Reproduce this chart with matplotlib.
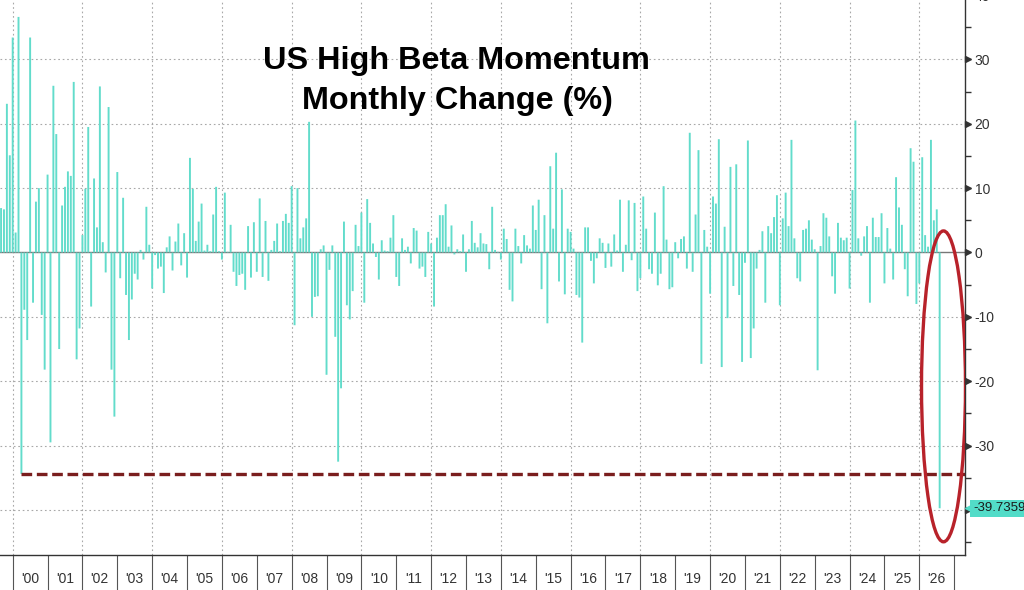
import numpy as np
import matplotlib
matplotlib.use("Agg")
import matplotlib.pyplot as plt
import matplotlib.transforms as mtransforms
from matplotlib.patches import Ellipse

# ---------------- data ----------------
start_year, start_month = 1999, 8          # first bar: Aug 1999 (bars at month end)
monthly_change = [
    6.9, 6.7, 23.1, 15.1, 33.4, 3.1, 36.6, -34.4, -8.9, -13.6,
    33.4, -7.8, 7.9, 10.0, -9.7, -18.2, 12.1, -29.5, 25.9, 18.4,
    -15.0, 7.3, 10.2, 12.6, 11.9, 26.5, -16.6, -11.8, 2.7, 9.9,
    19.5, -8.4, 11.5, 3.9, 25.8, 1.6, -3.1, 22.6, -18.2, -25.5,
    12.5, -4.0, 8.5, -6.6, -13.6, -7.3, -3.3, -4.2, 0.4, -1.1,
    7.1, 1.2, -5.6, -0.4, -2.5, -2.2, -6.3, 0.8, 2.5, -2.8,
    1.7, 4.5, -2.0, 3.0, -3.9, 14.7, 9.9, 1.8, 4.8, 7.6,
    0.3, 1.2, 0.2, 5.9, 10.2, 0.2, -1.1, 9.3, 0.1, 4.3,
    -3.0, -5.2, -3.5, -3.3, -5.8, 4.1, -3.9, 4.7, -3.0, 8.4,
    -3.8, 4.9, -4.4, 0.4, 1.8, 4.5, 0.2, 4.9, 6.0, 4.6,
    10.3, -11.3, 10.0, 2.2, 3.9, 5.3, 20.3, -10.0, -6.9, -6.8,
    0.5, 1.1, -19.0, -2.7, 1.1, -13.1, -32.5, -21.1, 4.8, -8.2,
    -10.4, -6.0, 4.3, 1.0, 6.2, -7.8, 8.3, 4.6, 1.4, -0.7,
    -4.2, 1.9, 0.3, 0.2, 2.3, 5.8, -3.8, -5.2, 2.2, 0.4,
    0.9, -1.7, 3.8, 3.4, -2.5, -2.2, -3.8, 3.2, 1.4, -8.4,
    2.3, 5.8, 5.8, 7.5, 0.9, 4.2, -0.3, 0.5, 0.2, 2.8,
    -3.0, 0.5, 4.9, 1.5, 0.8, 3.0, 1.4, 1.3, -2.6, 7.1,
    0.4, 0.1, -1.1, 3.7, 2.1, -5.8, -7.6, 3.7, 1.0, -1.7,
    2.7, 1.1, 0.6, 7.3, 3.5, 8.2, -5.7, 5.8, -11.0, 13.4,
    3.7, 15.5, -4.5, 9.8, -6.5, 3.7, 3.2, 0.6, -6.6, -7.0,
    -14.0, 3.9, 3.9, -1.3, -4.8, -0.9, 2.2, 1.5, -2.4, 1.4,
    -2.2, 2.8, 0.3, 8.2, -3.0, 1.2, 8.1, -1.2, 7.7, -6.0,
    -4.0, 8.7, 3.7, -2.6, -3.3, 6.2, -5.1, -3.3, 10.3, 2.0,
    -5.7, -5.4, 1.6, -0.9, 2.1, 2.5, -2.5, 18.6, -3.0, 5.9,
    15.9, -17.3, 3.5, 0.9, -6.4, 8.7, 7.6, 17.6, -17.8, 4.0,
    -10.2, 13.3, -5.2, 13.7, -6.6, -17.0, -1.6, 17.4, -16.4, -11.8,
    -2.5, 0.4, 3.3, -7.8, 4.1, 3.0, 5.5, 8.9, -8.2, 5.3,
    9.3, 4.1, 17.5, 2.2, -4.0, -4.5, 3.5, 3.7, 5.0, 2.0,
    0.5, -18.3, 1.0, 6.1, 5.4, 2.5, -3.7, -6.4, 4.6, 2.3,
    1.9, 2.3, -5.6, 9.7, 20.5, 2.2, -0.5, 2.5, 4.1, -7.8,
    5.4, 2.4, 2.4, 6.1, -4.8, 3.8, 0.6, -4.2, 11.7, 7.0,
    4.3, -2.6, -6.8, 16.2, 14.1, -8.0, -4.8, 14.8, 2.7, 0.9,
    17.5, 5.0, 6.7, -39.7359,
]
year_labels = ["'00", "'01", "'02", "'03", "'04", "'05", "'06", "'07", "'08",
               "'09", "'10", "'11", "'12", "'13", "'14", "'15", "'16", "'17",
               "'18", "'19", "'20", "'21", "'22", "'23", "'24", "'25", "'26"]
label_years = list(range(2000, 2027))
y_major = [-40, -30, -20, -10, 0, 10, 20, 30, 40]
y_major_labels = ["", "-30", "-20", "-10", "0", "10", "20", "30", "40"]  # -40 sits under the value tag
y_minor = [-45, -35, -25, -15, -5, 5, 15, 25, 35]
title_lines = ["US High Beta Momentum", "Monthly Change (%)"]

# ---------------- style ----------------
plt.rcParams['font.family'] = ['Liberation Sans', 'DejaVu Sans']
plt.rcParams['axes.unicode_minus'] = False
bar_color = '#62dccb'
grid_color = '#a8a8a8'
axis_color = '#333333'
line_red = '#7a1e1e'
ellipse_red = '#b8222a'
tag_color = '#52dcc8'

vals = np.array(monthly_change)
x = start_year + (start_month + np.arange(len(vals))) / 12.0

fig = plt.figure(figsize=(10.24, 5.9), dpi=100)
ax = fig.add_axes([0.0, 35 / 590, 965 / 1024, 561 / 590])
ax.set_xlim(1999.636, 2027.31)
ax.set_ylim(-47.0, 40.16)

# grid
for yv in y_major:
    if yv != 0:
        ax.axhline(yv, color=grid_color, lw=0.8, ls=(0, (1.5, 2.5)), zorder=0)
for yr in range(2000, 2027, 2):
    ax.axvline(yr, color=grid_color, lw=0.8, ls=(0, (1.5, 2.5)), zorder=0)
ax.axhline(0, color='#777777', lw=1.0, zorder=1)

# bars
ax.bar(x, vals, width=0.055, color=bar_color, linewidth=0, zorder=2, snap=False)

# dashed line at the 2000 low
early = vals[:60]
i_low = int(np.argmin(early))
ax.hlines(early[i_low], x[i_low], 2027.31, colors=line_red, lw=2.4,
          linestyles=(0, (3.2, 1.4)), zorder=4)

# ellipse around last bar
ell = Ellipse((x[-1] + 0.11, -20.8), width=1.26, height=48.3, fill=False,
              ec=ellipse_red, lw=2.4, zorder=5)
ax.add_patch(ell)

# spines
for s in ['left', 'top']:
    ax.spines[s].set_visible(False)
for s in ['right', 'bottom']:
    ax.spines[s].set_color(axis_color)
    ax.spines[s].set_linewidth(1.0)

# x axis
years = np.arange(2000, 2028)
ax.set_xticks(years)
ax.set_xticklabels([''] * len(years))
ax.set_xticks(np.array(label_years) + 0.5, minor=True)
ax.set_xticklabels(year_labels, minor=True)
ax.tick_params(axis='x', which='major', length=25, width=0.8, color='#555555', direction='out')
ax.tick_params(axis='x', which='minor', length=0, pad=12, labelsize=10, labelcolor=axis_color)

# y axis (right)
ax.yaxis.tick_right()
ax.set_yticks(y_major)
ax.set_yticklabels(y_major_labels)
ax.set_yticks(y_minor, minor=True)
ax.tick_params(axis='y', which='major', length=0, pad=7, labelsize=10, labelcolor=axis_color)
ax.tick_params(axis='y', which='minor', length=4, width=1.0, color=axis_color, direction='out')

blend = mtransforms.blended_transform_factory(ax.transAxes, ax.transData)
tri_tr = mtransforms.offset_copy(blend, fig=fig, x=2.5, y=0, units='dots')
ax.plot(np.ones(len(y_major)), y_major, ls='none', marker='>', ms=4.5,
        color=axis_color, transform=tri_tr, clip_on=False, zorder=6)

# last value tag
last = vals[-1]
arr_tr = mtransforms.offset_copy(blend, fig=fig, x=5, y=0, units='dots')
ax.plot([1.0], [last], marker='<', ms=7, color=tag_color, ls='none',
        transform=arr_tr, clip_on=False, zorder=6.5)
tag_tr = mtransforms.offset_copy(blend, fig=fig, x=8, y=0, units='dots')
ax.text(1.0, last, f"{last:.4f}", transform=tag_tr, ha='left', va='center',
        fontsize=9.5, color='#1a1a1a', clip_on=False, zorder=7,
        bbox=dict(boxstyle='square,pad=0.2', fc=tag_color, ec='none'))

# title
fig.text(456.5 / 1024, 1 - 69.5 / 590, title_lines[0], ha='center', va='baseline',
         fontsize=23.3, fontweight='bold', color='black')
fig.text(457 / 1024, 1 - 109.5 / 590, title_lines[1], ha='center', va='baseline',
         fontsize=23.3, fontweight='bold', color='black')

fig.savefig('out.png', dpi=100, facecolor='white')
